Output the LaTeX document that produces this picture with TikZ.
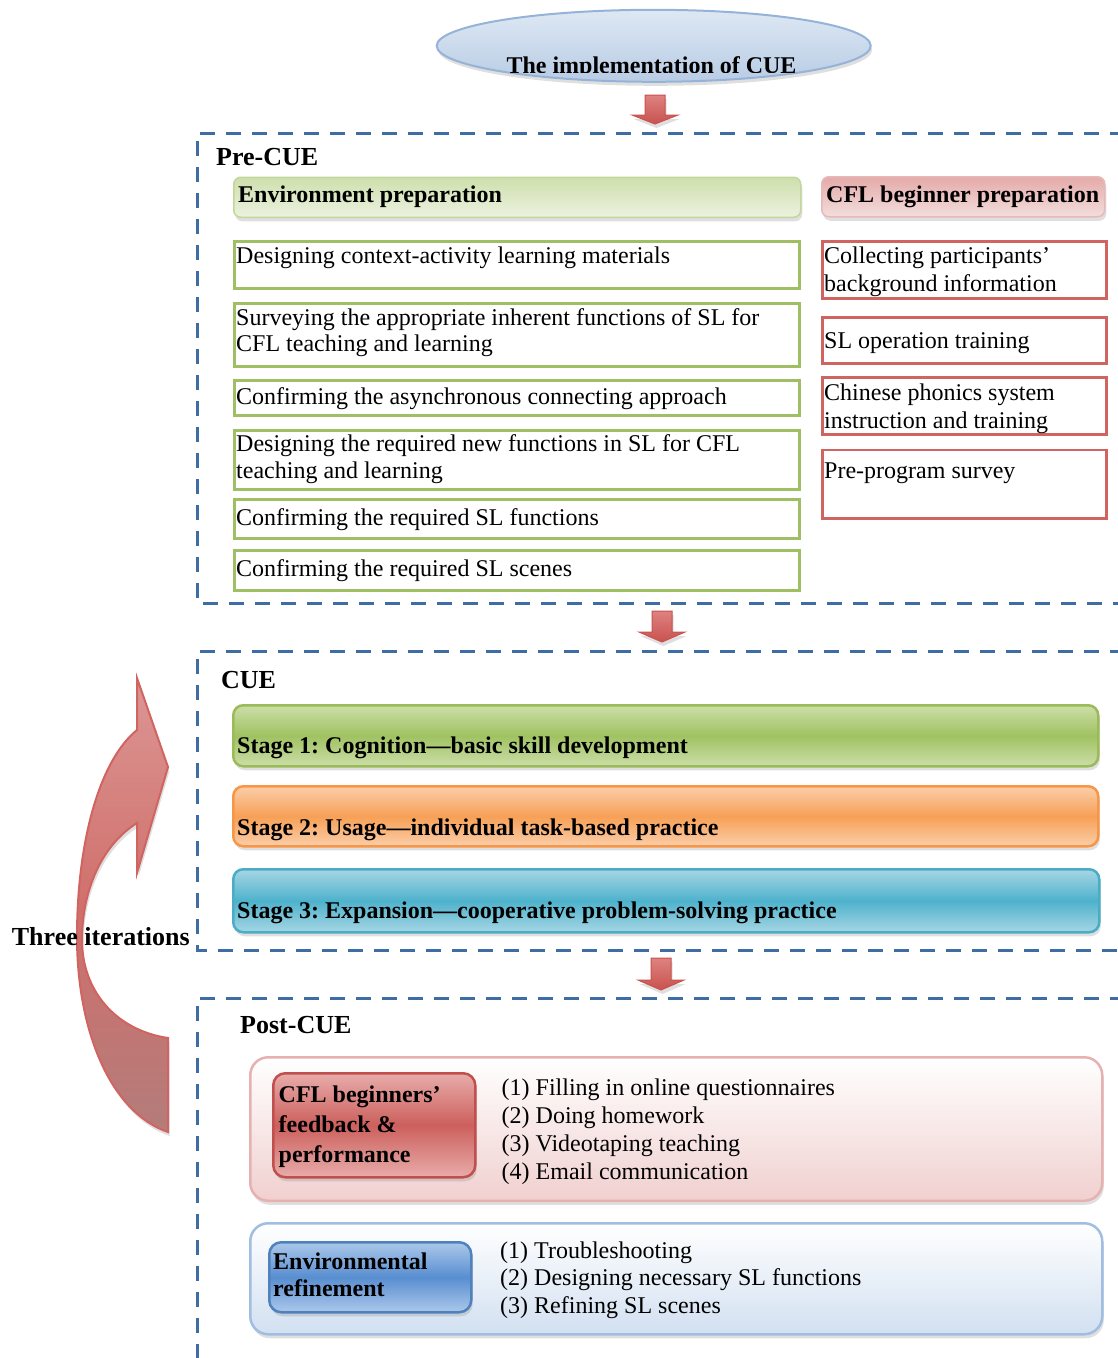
\documentclass[tikz,border=0pt]{standalone}
\usepackage{fontspec}
\setmainfont{Liberation Serif}
\usetikzlibrary{shapes.geometric,shadows}

\definecolor{dashc}{RGB}{62,108,165}
\definecolor{gbord}{RGB}{160,190,100}
\definecolor{rbord}{RGB}{208,100,97}
\definecolor{ellbord}{RGB}{149,179,215}
\definecolor{elltop}{RGB}{222,232,244}
\definecolor{ellbot}{RGB}{184,204,228}
\definecolor{envtop}{RGB}{206,223,172}
\definecolor{envbot}{RGB}{236,242,224}
\definecolor{envbord}{RGB}{195,214,155}
\definecolor{cfltop}{RGB}{228,170,168}
\definecolor{cflbot}{RGB}{243,222,221}
\definecolor{cflbord}{RGB}{230,185,184}
\definecolor{sonelt}{RGB}{204,222,168}
\definecolor{sonemd}{RGB}{160,194,98}
\definecolor{sonebd}{RGB}{155,187,89}
\definecolor{stwolt}{RGB}{251,206,170}
\definecolor{stwomd}{RGB}{247,160,86}
\definecolor{stwobd}{RGB}{247,150,70}
\definecolor{sthrlt}{RGB}{166,214,228}
\definecolor{sthrmd}{RGB}{78,178,204}
\definecolor{sthrbd}{RGB}{75,172,198}
\definecolor{pinkbot}{RGB}{240,208,207}
\definecolor{pinkbord}{RGB}{230,178,177}
\definecolor{inrlt}{RGB}{232,172,170}
\definecolor{inrmd}{RGB}{204,96,93}
\definecolor{inrbd}{RGB}{192,80,77}
\definecolor{bluebot}{RGB}{210,224,241}
\definecolor{bluebord}{RGB}{160,190,225}
\definecolor{inblt}{RGB}{172,200,234}
\definecolor{inbmd}{RGB}{88,142,208}
\definecolor{inbbd}{RGB}{79,129,189}
\definecolor{arrtop}{RGB}{222,130,128}
\definecolor{arrbot}{RGB}{200,82,79}
\definecolor{cvtop}{RGB}{220,150,148}
\definecolor{cvmid}{RGB}{208,112,108}
\definecolor{cvbot}{RGB}{180,124,122}

\newcommand\fs[1]{\fontsize{24}{#1}\selectfont}
\newcommand\lns[1]{\begin{tabular}[t]{@{}l@{}}#1\end{tabular}}
\newcommand\blockarr[4]{%
  \path[arrfill] ({#1-10},#2) -- ({#1+10},#2) -- ({#1+10},#3) -- ({#1+23},#3)
    -- (#1,#4) -- ({#1-23},#3) -- ({#1-10},#3) -- cycle;}

\begin{document}
\frenchspacing
\begin{tikzpicture}[x=1pt,y=-1pt,
  txt/.style={anchor=base west, inner sep=0pt, font=\fs{28}},
  btxt/.style={anchor=base west, inner sep=0pt, font=\fs{28}\bfseries},
  ttl/.style={anchor=base west, inner sep=0pt, font=\fontsize{26}{30}\selectfont\bfseries},
  sh/.style={drop shadow={shadow xshift=1.5pt, shadow yshift=-4pt, opacity=0.25}},
  gbox/.style={draw=gbord, line width=3pt, fill=white, anchor=north west, inner sep=0pt, minimum width=565pt},
  rbox/.style={draw=rbord, line width=2.8pt, fill=white, anchor=north west, inner sep=0pt, minimum width=284pt},
  frame/.style={draw=dashc, line width=3pt, dash pattern=on 15pt off 11pt},
  hdr/.style={anchor=north west, inner sep=0pt, rounded corners=7pt, line width=1.5pt, minimum height=40pt, sh},
  stagebox/.style={anchor=north west, inner sep=0pt, rounded corners=10pt, line width=2.5pt, minimum width=865pt, sh},
  postbox/.style={anchor=north west, inner sep=0pt, rounded corners=18pt, line width=2.5pt, minimum width=852pt, sh},
  innerbox/.style={anchor=north west, inner sep=0pt, rounded corners=12pt, line width=2.5pt, minimum width=202pt, sh},
  arrfill/.style={draw=arrbot, line width=1pt, top color=arrtop, bottom color=arrbot, sh},
]
\useasboundingbox (0,0) rectangle (1117,1358);

% ---------- top ellipse ----------
\node[ellipse, draw=ellbord, line width=2pt, top color=elltop, bottom color=ellbot,
      minimum width=434pt, minimum height=72pt, inner sep=0pt, sh] (title) at (653.7,45.8) {};
\begin{scope}
  \clip (400,0) rectangle (900,72);
  \node[anchor=base, inner sep=0pt, font=\fs{28}\bfseries] (titletext) at (651.5,73.5) {The implementation of CUE};
\end{scope}
\blockarr{655}{95}{115}{124}

% ---------- Pre-CUE ----------
\path[frame] (1125,133) -- (197,133) -- (197,603) -- (1125,603);
\node[ttl] (precue) at (216,165) {Pre-CUE};

\node[hdr, draw=envbord, top color=envtop, bottom color=envbot, minimum width=567pt] (envh) at (233,176.5) {};
\node[btxt] (envht) at (238,202) {Environment preparation};
\node[hdr, draw=cflbord, top color=cfltop, bottom color=cflbot, minimum width=283pt] (cflh) at (821,176) {};
\node[btxt] (cflht) at (826,202) {CFL beginner preparation};

\node[gbox, minimum height=47pt] (g1) at (233,240) {};
\node[gbox, minimum height=63.5pt] (g2) at (233,301.5) {};
\node[gbox, minimum height=35.5pt] (g3) at (233,378.5) {};
\node[gbox, minimum height=59pt] (g4) at (233,429) {};
\node[gbox, minimum height=39.5pt] (g5) at (233,497.5) {};
\node[gbox, minimum height=40pt] (g6) at (233,549) {};

\node[txt] (g1t) at (236,263.3) {Designing context-activity learning materials};
\node[txt, font=\fs{26.7}] (g2t) at (236,325) {\lns{Surveying the appropriate inherent functions of SL for\\CFL teaching and learning}};
\node[txt] (g3t) at (236,404) {Confirming the asynchronous connecting approach};
\node[txt, font=\fs{26.7}] (g4t) at (236,451.7) {\lns{Designing the required new functions in SL for CFL\\teaching and learning}};
\node[txt] (g5t) at (236,525) {Confirming the required SL functions};
\node[txt] (g6t) at (236,576.5) {Confirming the required SL scenes};

\node[rbox, minimum height=57pt] (r1) at (821,240) {};
\node[rbox, minimum height=46pt] (r2) at (821,316) {};
\node[rbox, minimum height=57pt] (r3) at (821,376) {};
\node[rbox, minimum height=68.5pt] (r4) at (821,448.5) {};

\node[txt, font=\fs{28.4}] (r1t) at (824,263.3) {\lns{Collecting participants’\\background information}};
\node[txt] (r2t) at (824,348.3) {SL operation training};
\node[txt, font=\fs{28.3}] (r3t) at (824,400) {\lns{Chinese phonics system\\instruction and training}};
\node[txt] (r4t) at (824,478.3) {Pre-program survey};

\blockarr{662}{611}{632}{642}

% ---------- CUE ----------
\path[frame] (1125,651) -- (197,651) -- (197,950) -- (1125,950);
\node[ttl] (cue) at (221,688) {CUE};

\node[stagebox, draw=sonebd, top color=sonelt, bottom color=sonelt, middle color=sonemd, minimum height=61pt] (s1) at (232,704) {};
\node[btxt] (s1t) at (237,753.5) {Stage 1: Cognition—basic skill development};
\node[stagebox, draw=stwobd, top color=stwolt, bottom color=stwolt, middle color=stwomd, minimum height=60pt] (s2) at (232,785) {};
\node[btxt] (s2t) at (237,835.5) {Stage 2: Usage—individual task-based practice};
\node[stagebox, draw=sthrbd, top color=sthrlt, bottom color=sthrlt, middle color=sthrmd, minimum height=63pt, minimum width=866pt] (s3) at (232,868) {};
\node[btxt] (s3t) at (237,918) {Stage 3: Expansion—cooperative problem-solving practice};

\blockarr{661}{958}{980}{990}

% ---------- Post-CUE ----------
\path[frame] (1125,998) -- (197,998) -- (197,1375);
\node[ttl] (postcue) at (240,1033) {Post-CUE};

\node[postbox, draw=pinkbord, top color=white, bottom color=pinkbot, minimum height=143.5pt] (p1) at (249,1056) {};
\node[innerbox, draw=inrbd, top color=inrlt, bottom color=inrlt, middle color=inrmd, minimum height=104pt] (p1h) at (272,1072) {};
\node[btxt, font=\fs{30}\bfseries] (p1ht) at (278.5,1102) {\lns{CFL beginners’\\feedback \&\\performance}};
\node[txt] (p1i) at (501.5,1095) {\lns{(1) Filling in online questionnaires\\(2) Doing homework\\(3) Videotaping teaching\\(4) Email communication}};

\node[postbox, draw=bluebord, top color=white, bottom color=bluebot, minimum height=111pt] (p2) at (249,1222) {};
\node[innerbox, draw=inbbd, top color=inblt, bottom color=inblt, middle color=inbmd, minimum height=70pt] (p2h) at (268,1241) {};
\node[btxt, font=\fs{27}\bfseries] (p2ht) at (273,1269) {\lns{Environmental\\refinement}};
\node[txt, font=\fs{27.5}] (p2i) at (500,1258) {\lns{(1) Troubleshooting\\(2) Designing necessary SL functions\\(3) Refining SL scenes}};

% ---------- curved arrow ----------
\path[draw=rbord, line width=2pt, top color=cvtop, bottom color=cvbot, middle color=cvmid, sh]
  (168,1132) .. controls (110,1112) and (77,1030) .. (77,937)
  .. controls (77,840) and (100,760) .. (137,730)
  -- (137,678) -- (168,767) -- (137,873) -- (137,823)
  .. controls (102,845) and (82,890) .. (82,940)
  .. controls (82,990) and (115,1030) .. (168,1038) -- cycle;
\node[anchor=base west, inner sep=0pt, font=\fontsize{26}{30}\selectfont\bfseries] (iter) at (11.7,945) {Three iterations};
\end{tikzpicture}
\end{document}
